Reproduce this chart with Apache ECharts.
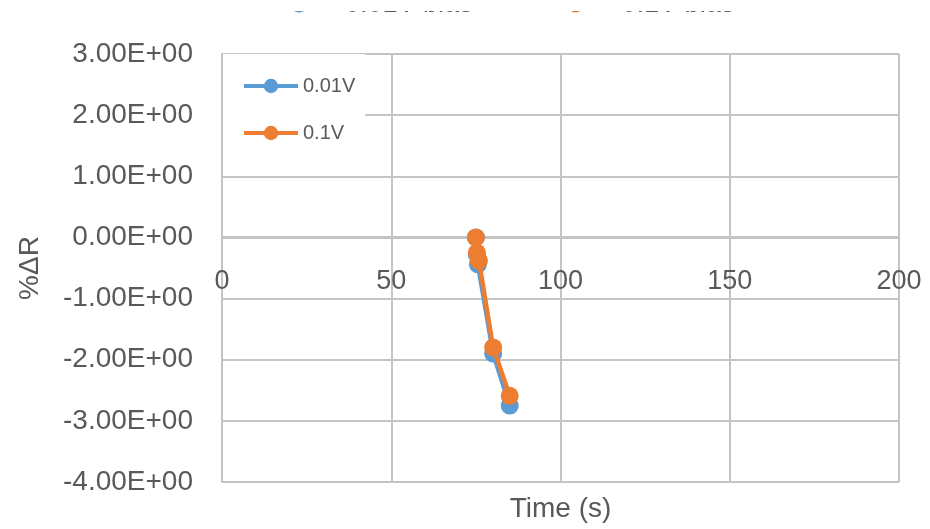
<!DOCTYPE html>
<html>
<head>
<meta charset="utf-8">
<script src="https://cdn.jsdelivr.net/npm/echarts@6/dist/echarts.min.js"></script>
<style>
html,body{margin:0;padding:0;background:#fff;}
#chart{width:930px;height:529px;}
</style>
</head>
<body>
<div id="chart"></div>
<script>
var seriesNames = ['0.01V', '0.1V'];
var blueTime = [75.0, 75.3, 75.6, 80.1, 85.0];
var blueDR = [0.0, -0.28, -0.44, -1.9, -2.75];
var orangeTime = [75.0, 75.3, 75.9, 80.1, 85.0];
var orangeDR = [0.0, -0.25, -0.38, -1.8, -2.59];
var yTickValues = [-4, -3, -2, -1, 0, 1, 2, 3];
var yTickLabels = ['-4.00E+00', '-3.00E+00', '-2.00E+00', '-1.00E+00', '0.00E+00', '1.00E+00', '2.00E+00', '3.00E+00'];
var xTickLabels = ['0', '50', '100', '150', '200'];

function pairs(xs, ys) { return xs.map(function (x, i) { return [x, ys[i]]; }); }

var FONT = '"Liberation Sans", Arial, sans-serif';
var TXT = '#595959';
var GRID = '#C4C4C4';

var chart = echarts.init(document.getElementById('chart'), null, { renderer: 'canvas' });
chart.setOption({
  animation: false,
  backgroundColor: '#fff',
  textStyle: { fontFamily: FONT },
  grid: { left: 222, right: 31, top: 54, bottom: 47, containLabel: false, outerBoundsMode: 'none' },
  graphic: [
    { type: 'rect', left: 0, top: 0, z: 100, silent: true,
      shape: { width: 930, height: 11 }, style: { fill: '#fff' } }
  ],
  legend: [
    {
      data: seriesNames,
      orient: 'vertical',
      left: 223,
      top: 54,
      width: 145,
      padding: [22, 10, 28, 19],
      backgroundColor: '#fff',
      itemWidth: 54,
      itemHeight: 18,
      itemGap: 27,
      lineStyle: { width: 4 },
      textStyle: { fontSize: 20, color: TXT, fontFamily: FONT }
    },
    {
      data: seriesNames,
      orient: 'horizontal',
      left: 269,
      top: -9,
      padding: 0,
      itemWidth: 56,
      itemHeight: 20,
      itemGap: 73,
      lineStyle: { width: 4 },
      formatter: function (n) { return n + ' bias'; },
      textStyle: { fontSize: 27, color: TXT, fontFamily: FONT, padding: [0, 0, 0, 13] }
    }
  ],
  xAxis: {
    type: 'value',
    position: 'bottom',
    offset: -245,
    min: 0, max: 200, interval: 50,
    name: 'Time (s)',
    nameLocation: 'middle',
    nameGap: 258,
    nameTextStyle: { fontSize: 28, color: TXT, fontFamily: FONT },
    axisLine: { onZero: false, lineStyle: { color: GRID, width: 2 } },
    axisTick: { show: false },
    axisLabel: {
      fontSize: 27, color: TXT, margin: 31, fontFamily: FONT,
      formatter: function (v) { return xTickLabels[Math.round(v / 50)]; }
    },
    splitLine: { show: true, lineStyle: { color: GRID, width: 2 } }
  },
  yAxis: {
    type: 'value',
    min: -4, max: 3, interval: 1,
    name: '%ΔR',
    nameLocation: 'middle',
    nameGap: 178,
    nameRotate: 90,
    nameTextStyle: { fontSize: 28, color: TXT, fontFamily: FONT },
    axisLine: { show: true, onZero: false, lineStyle: { color: GRID, width: 2 } },
    axisTick: { show: false },
    axisLabel: {
      fontSize: 28, color: TXT, margin: 29, fontFamily: FONT,
      formatter: function (v) { return yTickLabels[yTickValues.indexOf(Math.round(v))]; }
    },
    splitLine: { show: true, lineStyle: { color: GRID, width: 2 } }
  },
  series: [
    {
      name: seriesNames[0], type: 'line',
      data: pairs(blueTime, blueDR),
      symbol: 'circle', symbolSize: 18,
      itemStyle: { color: '#5B9BD5' },
      lineStyle: { color: '#5B9BD5', width: 4.5 },
      z: 3
    },
    {
      name: seriesNames[1], type: 'line',
      data: pairs(orangeTime, orangeDR),
      symbol: 'circle', symbolSize: 18,
      itemStyle: { color: '#ED7D31' },
      lineStyle: { color: '#ED7D31', width: 4.5 },
      z: 4
    }
  ]
});
</script>
</body>
</html>
